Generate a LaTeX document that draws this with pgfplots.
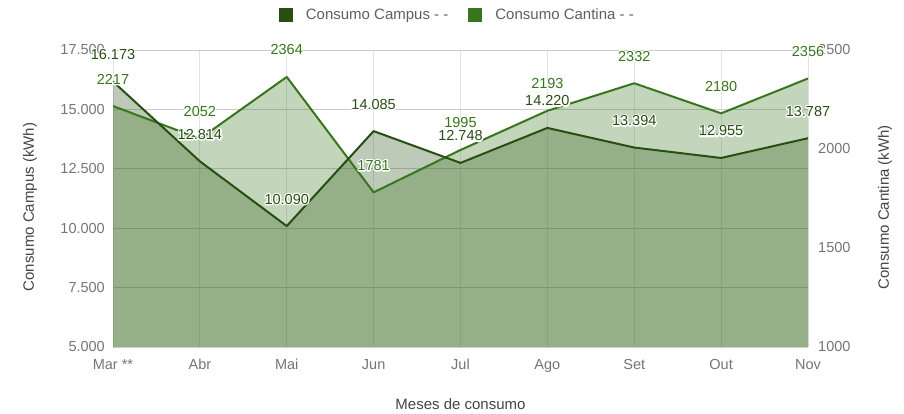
\documentclass[border=0pt]{standalone}
\usepackage{pgfplots}
\pgfplotsset{compat=1.18}
\usepackage{pgfplotstable}
\usepackage{fontspec}
\setmainfont{Liberation Sans}
\definecolor{campus}{HTML}{274E13}
\definecolor{cantina}{HTML}{38761D}
\definecolor{ticktext}{HTML}{757575}
\definecolor{titletext}{HTML}{444444}
\definecolor{legendtext}{HTML}{5F5F5F}
\definecolor{gridc}{HTML}{CCCCCC}
\definecolor{gridv}{HTML}{E3E3E3}
% white halo: stroked copy under the normal text
\newcommand\halo[1]{\rlap{\special{pdf:literal direct 1 Tr 2.6 w 1 1 1 RG 1 j}#1\special{pdf:literal direct 0 Tr}}#1}

\pgfplotstableread{
x campus clab
0 16173 16.173
1 12814 12.814
2 10090 10.090
3 14085 14.085
4 12748 12.748
5 14220 14.220
6 13394 13.394
7 12955 12.955
8 13787 13.787
}\campusdata

\pgfplotstableread{
x cantina
0 2217
1 2052
2 2364
3 1781
4 1995
5 2193
6 2332
7 2180
8 2356
}\cantinadata

\begin{document}
\begin{tikzpicture}[x=1pt,y=1pt]
\path[use as bounding box] (0,0) rectangle (904,414);
\pgfplotsset{
  base/.style={
    width=695pt, height=297pt, scale only axis,
    at={(113pt,67pt)}, anchor=south west,
    xmin=0, xmax=8,
    scaled ticks=false,
    axis line style={draw=none},
    major tick length=0pt,
    tick label style={font=\fontsize{14.5}{16}\selectfont, text=ticktext, inner sep=0pt},
  },
  lab/.style={
    nodes near coords={\halo{\pgfplotspointmeta}},
    point meta=explicit symbolic,
    every node near coord/.append style={anchor=center, yshift=27pt, inner sep=0pt,
      font=\fontsize{14.5}{16}\selectfont, text=#1},
  },
}
% Axis A: left scale, grid, ticks, campus fill
\begin{axis}[base,
  ymin=5000, ymax=17500,
  ytick={5000,7500,10000,12500,15000,17500},
  yticklabels={5.000,7.500,10.000,12.500,15.000,17.500},
  xtick={0,...,8},
  xticklabels={Mar **,Abr,Mai,Jun,Jul,Ago,Set,Out,Nov},
  xticklabel style={anchor=base, yshift=-23pt},
  yticklabel style={anchor=east, xshift=-8pt},
  grid=major,
  major y grid style={gridc, line width=0.8pt},
  major x grid style={gridv, line width=0.8pt},
  xlabel={Meses de consumo},
  ylabel={Consumo Campus (kWh)},
  every axis x label/.style={at={(rel axis cs:0.5,0)}, yshift=-63pt, anchor=base,
    font=\fontsize{15}{17}\selectfont, text=titletext},
  every axis y label/.style={at={(rel axis cs:0,0.471)}, xshift=-83pt, rotate=90, anchor=center,
    font=\fontsize{15}{17}\selectfont, text=titletext},
  legend style={at={(0.494,1.118)}, anchor=center, draw=none, fill=none,
    legend columns=2, font=\fontsize{15}{17}\selectfont, text=legendtext,
    nodes={inner sep=0pt},
    /tikz/every odd column/.append style={column sep=13pt},
    /tikz/every even column/.append style={column sep=20pt}},
  legend cell align=left,
  legend image code/.code={\fill[#1, draw=none] (0pt,-7pt) rectangle (14pt,7pt);},
]
\addlegendimage{fill=campus}
\addlegendentry{Consumo Campus - -}
\addlegendimage{fill=cantina}
\addlegendentry{Consumo Cantina - -}
\addplot[draw=none, fill=campus, fill opacity=0.3, forget plot]
  table[x=x, y=campus]{\campusdata} \closedcycle;
\end{axis}
% Axis B: right scale, cantina fill and line
\begin{axis}[base,
  ymin=1000, ymax=2500,
  ytick={1000,1500,2000,2500},
  yticklabels={1000,1500,2000,2500},
  yticklabel pos=right,
  yticklabel style={anchor=west, xshift=10pt},
  xtick=\empty,
  ylabel={Consumo Cantina (kWh)},
  every axis y label/.style={at={(rel axis cs:1,0.471)}, xshift=77pt, rotate=90, anchor=center,
    font=\fontsize{15}{17}\selectfont, text=titletext},
]
\addplot[draw=none, fill=cantina, fill opacity=0.3]
  table[x=x, y=cantina]{\cantinadata} \closedcycle;
\addplot[cantina, line width=2pt, line join=round]
  table[x=x, y=cantina]{\cantinadata};
\end{axis}
% Axis C: campus line and labels
\begin{axis}[base, hide axis, clip=false,
  ymin=5000, ymax=17500,
]
\addplot[campus, line width=2pt, line join=round]
  table[x=x, y=campus]{\campusdata};
\addplot[draw=none, lab=campus]
  table[x=x, y=campus, meta=clab]{\campusdata};
\end{axis}
% Axis D: cantina labels
\begin{axis}[base, hide axis, clip=false,
  ymin=1000, ymax=2500,
]
\addplot[draw=none, lab=cantina]
  table[x=x, y=cantina, meta=cantina]{\cantinadata};
\end{axis}
\end{tikzpicture}
\end{document}
